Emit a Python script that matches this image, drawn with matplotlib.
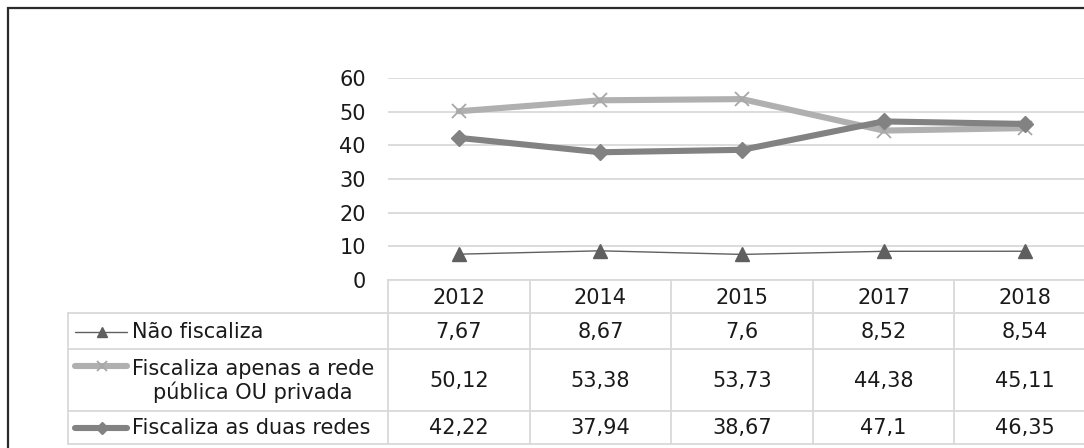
import matplotlib
matplotlib.use("Agg")
import matplotlib.pyplot as plt
from matplotlib.lines import Line2D
from matplotlib.transforms import blended_transform_factory

W, H = 1084, 448

years = ["2012", "2014", "2015", "2017", "2018"]
nao_fiscaliza = [7.67, 8.67, 7.6, 8.52, 8.54]
apenas_uma = [50.12, 53.38, 53.73, 44.38, 45.11]
duas_redes = [42.22, 37.94, 38.67, 47.1, 46.35]

labels = ["Não fiscaliza",
          "Fiscaliza apenas a rede\npública OU privada",
          "Fiscaliza as duas redes"]
cells = [["7,67", "8,67", "7,6", "8,52", "8,54"],
         ["50,12", "53,38", "53,73", "44,38", "45,11"],
         ["42,22", "37,94", "38,67", "47,1", "46,35"]]

plt.rcParams["font.family"] = "DejaVu Sans"
FS = 15
GRID = "#d9d9d9"
TXT = "#1a1a1a"

fig = plt.figure(figsize=(W / 100, H / 100), dpi=100)

# pixel-coordinate helper for placing axes
def px_axes(x0, y0, x1, y1):
    return [x0 / W, 1 - y1 / H, (x1 - x0) / W, (y1 - y0) / H]

# plot area
X0, X1 = 388, 1096
Y_TOP, Y_ZERO = 78, 280
ax = fig.add_axes(px_axes(X0, Y_TOP, X1, Y_ZERO))
x = list(range(len(years)))

styles = [
    dict(data=nao_fiscaliza, color="#606060", lw=1.0, marker="^", ms=10,
         mfc="#5f5f5f", mec="#5f5f5f", mew=1),
    dict(data=apenas_uma, color="#b0b0b0", lw=4.4, marker="x", ms=10,
         mfc="#b0b0b0", mec="#a8a8a8", mew=1.3),
    dict(data=duas_redes, color="#828282", lw=4.4, marker="D", ms=8.5,
         mfc="#828282", mec="#828282", mew=1),
]
for s in styles:
    ax.plot(x, s["data"], color=s["color"], lw=s["lw"], marker=s["marker"],
            ms=s["ms"], mfc=s["mfc"], mec=s["mec"], mew=s["mew"],
            solid_capstyle="round", zorder=3)

ax.set_xlim(-0.5, len(years) - 0.5)
ax.set_ylim(0, 60)
ax.set_yticks(range(0, 61, 10))
ax.set_xticks([])
ax.yaxis.grid(True, color=GRID, lw=1.3)
ax.set_axisbelow(True)
for sp in ax.spines.values():
    sp.set_visible(False)
ax.tick_params(axis="y", length=0, pad=16, labelsize=FS, labelcolor=TXT)
ax.patch.set_alpha(0)

# overlay in pixel coords for the data table and border
ov = fig.add_axes([0, 0, 1, 1])
ov.set_xlim(0, W)
ov.set_ylim(H, 0)
ov.axis("off")
ov.patch.set_alpha(0)

# outer chart border
ov.plot([8, 8, 1100], [470, 8, 8], color="#2b2b2b", lw=1.6, solid_joinstyle="miter")

# table geometry
LX = 68
rows_y = [Y_ZERO, 313, 349, 411, 444]
tr = blended_transform_factory(ax.transData, ov.transData)

# horizontal lines
ov.plot([X0, X1], [Y_ZERO, Y_ZERO], color=GRID, lw=1.3)
for yy in rows_y[1:]:
    ov.plot([LX, X1], [yy, yy], color=GRID, lw=1.3)
# vertical lines
ov.plot([LX, LX], [rows_y[1], rows_y[-1]], color=GRID, lw=1.3)
for i in range(len(years)):
    ov.plot([i - 0.5, i - 0.5], [Y_ZERO, rows_y[-1]], color=GRID, lw=1.3,
            transform=tr)

# header row
for i, yr in enumerate(years):
    ov.text(i, (rows_y[0] + rows_y[1]) / 2 + 1, yr, ha="center", va="center",
            fontsize=FS, color=TXT, transform=tr)

# body rows
for r in range(3):
    yc = (rows_y[r + 1] + rows_y[r + 2]) / 2 + 1
    for i, val in enumerate(cells[r]):
        ov.text(i, yc, val, ha="center", va="center", fontsize=FS,
                color=TXT, transform=tr)
    s = styles[r]
    if r == 1:
        ly = rows_y[r + 1] + 17
        ov.text(132, yc, labels[r], ha="left", va="center", fontsize=FS,
                color=TXT, multialignment="center", linespacing=1.1)
    else:
        ly = yc
        ov.text(132, yc, labels[r], ha="left", va="center", fontsize=FS,
                color=TXT)
    ov.add_line(Line2D([75, 127], [ly, ly], color=s["color"], lw=s["lw"],
                       solid_capstyle="round"))
    ov.add_line(Line2D([101.5], [ly], marker=s["marker"], ms=s["ms"] * 0.7,
                       mfc=s["mfc"], mec=s["mec"], mew=s["mew"], lw=0))

fig.savefig("out.png", dpi=100)
